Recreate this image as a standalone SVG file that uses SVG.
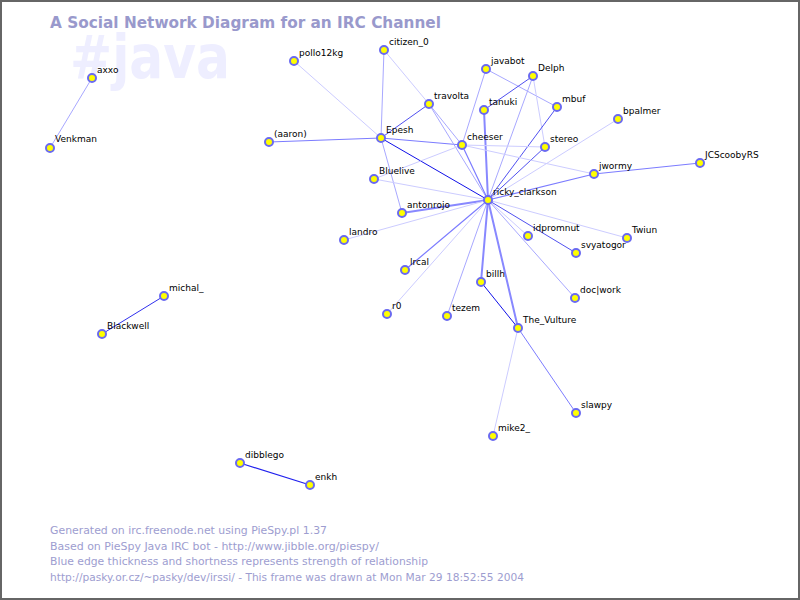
<svg xmlns="http://www.w3.org/2000/svg" width="800" height="600" viewBox="0 0 800 600">
<style>
.lbl{font-family:"DejaVu Sans",sans-serif;font-size:9px;fill:#000}
.nd{fill:#ffff00;stroke:#6a6af0;stroke-width:2}
.ft{font-family:"DejaVu Sans",sans-serif;font-size:11px;fill:#9d9dd0}
line{stroke-linecap:round}
.e1{stroke:#ccccff;stroke-width:1}
.e2{stroke:#a8a8ff;stroke-width:1}
.e3{stroke:#7c7cff;stroke-width:1.2}
.e4{stroke:#1010e8;stroke-width:1}
.e5{stroke:#8888ff;stroke-width:2}
.e6{stroke:#5050f0;stroke-width:1}
</style>
<rect x="1" y="1" width="798" height="598" fill="#ffffff" stroke="#666666" stroke-width="2"/>
<text x="70" y="78" font-family="DejaVu Sans, sans-serif" font-weight="bold" font-size="60" fill="#eeeeff" textLength="160" lengthAdjust="spacingAndGlyphs">#java</text>
<text x="50" y="28" font-family="DejaVu Sans, sans-serif" font-weight="bold" font-size="16" fill="#9999cc" textLength="391" lengthAdjust="spacingAndGlyphs">A Social Network Diagram for an IRC Channel</text>
<g id="connectors">
<line class="e1" x1="294" y1="61" x2="381" y2="138"/>
<line class="e2" x1="384" y1="50" x2="381" y2="138"/>
<line class="e1" x1="384" y1="50" x2="429" y2="104"/>
<line class="e6" x1="429" y1="104" x2="381" y2="138"/>
<line class="e3" x1="269" y1="142" x2="381" y2="138"/>
<line class="e3" x1="381" y1="138" x2="462" y2="145"/>
<line class="e4" x1="381" y1="138" x2="488" y2="200"/>
<line class="e2" x1="381" y1="138" x2="402" y2="213"/>
<line class="e2" x1="429" y1="104" x2="462" y2="145"/>
<line class="e2" x1="429" y1="104" x2="488" y2="200"/>
<line class="e2" x1="486" y1="69" x2="462" y2="145"/>
<line class="e2" x1="486" y1="69" x2="557" y2="107"/>
<line class="e6" x1="533" y1="76" x2="484" y2="110"/>
<line class="e2" x1="533" y1="76" x2="488" y2="200"/>
<line class="e1" x1="533" y1="76" x2="545" y2="147"/>
<line class="e5" x1="484" y1="110" x2="488" y2="200"/>
<line class="e6" x1="557" y1="107" x2="488" y2="200"/>
<line class="e6" x1="545" y1="147" x2="488" y2="200"/>
<line class="e1" x1="618" y1="119" x2="488" y2="200"/>
<line class="e3" x1="594" y1="174" x2="488" y2="200"/>
<line class="e3" x1="594" y1="174" x2="700" y2="163"/>
<line class="e1" x1="462" y1="145" x2="545" y2="147"/>
<line class="e1" x1="462" y1="145" x2="594" y2="174"/>
<line class="e1" x1="462" y1="145" x2="374" y2="179"/>
<line class="e3" x1="462" y1="145" x2="488" y2="200"/>
<line class="e1" x1="374" y1="179" x2="488" y2="200"/>
<line class="e5" x1="402" y1="213" x2="488" y2="200"/>
<line class="e1" x1="344" y1="240" x2="488" y2="200"/>
<line class="e1" x1="528" y1="236" x2="488" y2="200"/>
<line class="e6" x1="488" y1="200" x2="576" y2="253"/>
<line class="e1" x1="488" y1="200" x2="627" y2="238"/>
<line class="e2" x1="488" y1="200" x2="575" y2="298"/>
<line class="e3" x1="488" y1="200" x2="405" y2="270"/>
<line class="e1" x1="488" y1="200" x2="387" y2="314"/>
<line class="e2" x1="488" y1="200" x2="447" y2="316"/>
<line class="e5" x1="488" y1="200" x2="481" y2="282"/>
<line class="e5" x1="488" y1="200" x2="518" y2="328"/>
<line class="e4" x1="481" y1="282" x2="518" y2="328"/>
<line class="e3" x1="518" y1="328" x2="576" y2="413" style="stroke-width:1"/>
<line class="e1" x1="518" y1="328" x2="493" y2="436"/>
<line class="e2" x1="92" y1="78" x2="50" y2="148"/>
<line class="e6" x1="164" y1="296" x2="102" y2="334" style="stroke:#3030ee"/>
<line class="e6" x1="240" y1="463" x2="310" y2="485" style="stroke:#2020ee;stroke-width:1.2"/>
</g>
<g id="axxo"><circle class="nd" cx="92" cy="78" r="4"/><text class="lbl" x="97" y="73">axxo</text></g>
<g id="Venkman"><circle class="nd" cx="50" cy="148" r="4"/><text class="lbl" x="55" y="142">Venkman</text></g>
<g id="pollo12kg"><circle class="nd" cx="294" cy="61" r="4"/><text class="lbl" x="299" y="56">pollo12kg</text></g>
<g id="citizen_0"><circle class="nd" cx="384" cy="50" r="4"/><text class="lbl" x="389" y="45">citizen_0</text></g>
<g id="javabot"><circle class="nd" cx="486" cy="69" r="4"/><text class="lbl" x="491" y="64">javabot</text></g>
<g id="Delph"><circle class="nd" cx="533" cy="76" r="4"/><text class="lbl" x="538" y="71">Delph</text></g>
<g id="tanuki"><circle class="nd" cx="484" cy="110" r="4"/><text class="lbl" x="489" y="105">tanuki</text></g>
<g id="travolta"><circle class="nd" cx="429" cy="104" r="4"/><text class="lbl" x="434" y="99">travolta</text></g>
<g id="mbuf"><circle class="nd" cx="557" cy="107" r="4"/><text class="lbl" x="562" y="102">mbuf</text></g>
<g id="bpalmer"><circle class="nd" cx="618" cy="119" r="4"/><text class="lbl" x="623" y="114">bpalmer</text></g>
<g id="Epesh"><circle class="nd" cx="381" cy="138" r="4"/><text class="lbl" x="386" y="133">Epesh</text></g>
<g id="aaron"><circle class="nd" cx="269" cy="142" r="4"/><text class="lbl" x="274" y="137">(aaron)</text></g>
<g id="cheeser"><circle class="nd" cx="462" cy="145" r="4"/><text class="lbl" x="467" y="140">cheeser</text></g>
<g id="stereo"><circle class="nd" cx="545" cy="147" r="4"/><text class="lbl" x="550" y="142">stereo</text></g>
<g id="JCScoobyRS"><circle class="nd" cx="700" cy="163" r="4"/><text class="lbl" x="705" y="158">JCScoobyRS</text></g>
<g id="jwormy"><circle class="nd" cx="594" cy="174" r="4"/><text class="lbl" x="599" y="169">jwormy</text></g>
<g id="Bluelive"><circle class="nd" cx="374" cy="179" r="4"/><text class="lbl" x="379" y="174">Bluelive</text></g>
<g id="ricky_clarkson"><circle class="nd" cx="488" cy="200" r="4"/><text class="lbl" x="493" y="195">ricky_clarkson</text></g>
<g id="antonrojo"><circle class="nd" cx="402" cy="213" r="4"/><text class="lbl" x="407" y="208">antonrojo</text></g>
<g id="landro"><circle class="nd" cx="344" cy="240" r="4"/><text class="lbl" x="349" y="235">landro</text></g>
<g id="idpromnut"><circle class="nd" cx="528" cy="236" r="4"/><text class="lbl" x="533" y="231">idpromnut</text></g>
<g id="Twiun"><circle class="nd" cx="627" cy="238" r="4"/><text class="lbl" x="632" y="233">Twiun</text></g>
<g id="svyatogor"><circle class="nd" cx="576" cy="253" r="4"/><text class="lbl" x="581" y="248">svyatogor</text></g>
<g id="lrcal"><circle class="nd" cx="405" cy="270" r="4"/><text class="lbl" x="410" y="265">lrcal</text></g>
<g id="billh"><circle class="nd" cx="481" cy="282" r="4"/><text class="lbl" x="486" y="277">billh</text></g>
<g id="docwork"><circle class="nd" cx="575" cy="298" r="4"/><text class="lbl" x="580" y="293">doc|work</text></g>
<g id="r0"><circle class="nd" cx="387" cy="314" r="4"/><text class="lbl" x="392" y="309">r0</text></g>
<g id="tezem"><circle class="nd" cx="447" cy="316" r="4"/><text class="lbl" x="452" y="311">tezem</text></g>
<g id="The_Vulture"><circle class="nd" cx="518" cy="328" r="4"/><text class="lbl" x="523" y="323">The_Vulture</text></g>
<g id="slawpy"><circle class="nd" cx="576" cy="413" r="4"/><text class="lbl" x="581" y="408">slawpy</text></g>
<g id="mike2_"><circle class="nd" cx="493" cy="436" r="4"/><text class="lbl" x="498" y="431">mike2_</text></g>
<g id="michal_"><circle class="nd" cx="164" cy="296" r="4"/><text class="lbl" x="169" y="291">michal_</text></g>
<g id="Blackwell"><circle class="nd" cx="102" cy="334" r="4"/><text class="lbl" x="107" y="329">Blackwell</text></g>
<g id="dibblego"><circle class="nd" cx="240" cy="463" r="4"/><text class="lbl" x="245" y="458">dibblego</text></g>
<g id="enkh"><circle class="nd" cx="310" cy="485" r="4"/><text class="lbl" x="315" y="480">enkh</text></g>
<g id="footer">
<text class="ft" x="50" y="534" textLength="277" lengthAdjust="spacingAndGlyphs">Generated on irc.freenode.net using PieSpy.pl 1.37</text>
<text class="ft" x="50" y="549.5" textLength="329" lengthAdjust="spacingAndGlyphs">Based on PieSpy Java IRC bot - http://www.jibble.org/piespy/</text>
<text class="ft" x="50" y="565" textLength="378" lengthAdjust="spacingAndGlyphs">Blue edge thickness and shortness represents strength of relationship</text>
<text class="ft" x="50" y="580.5" textLength="474" lengthAdjust="spacingAndGlyphs">http://pasky.or.cz/~pasky/dev/irssi/ - This frame was drawn at Mon Mar 29 18:52:55 2004</text>
</g>
</svg>
